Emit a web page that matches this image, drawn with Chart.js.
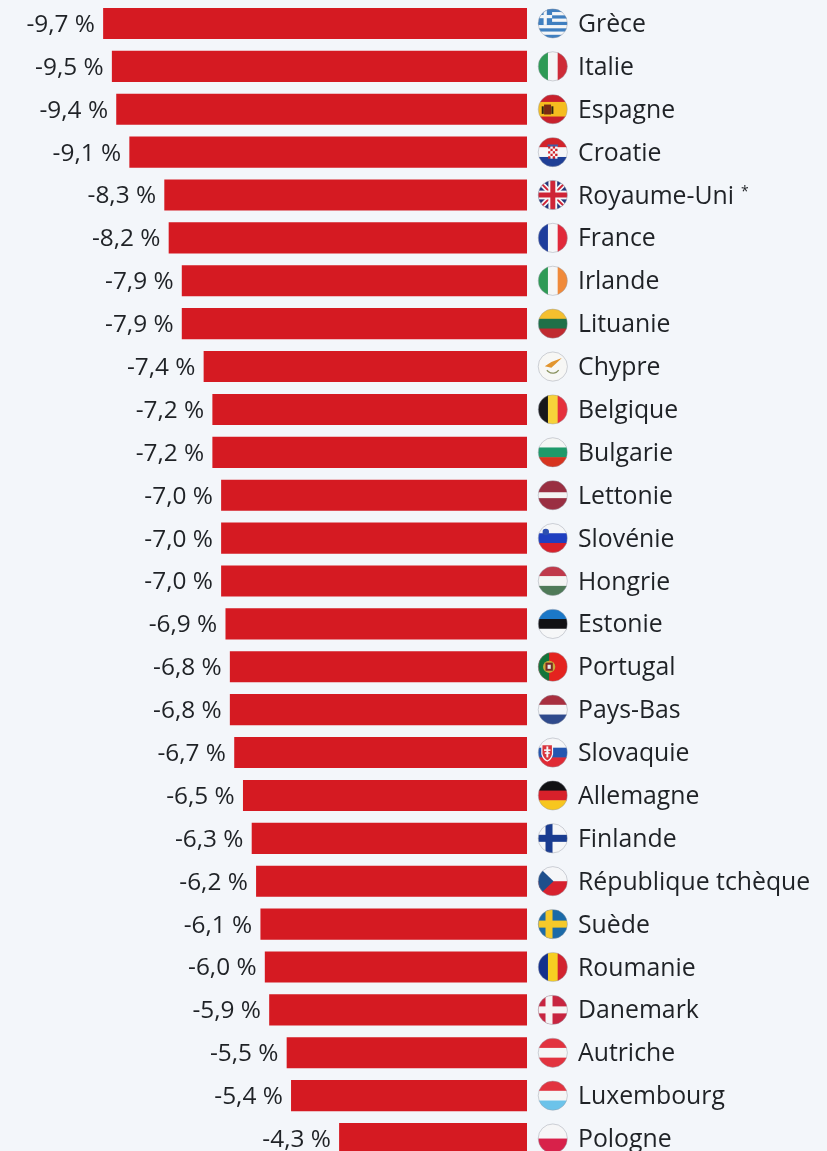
<!DOCTYPE html>
<html lang="fr">
<head>
<meta charset="utf-8">
<title>Pays</title>
<script src="https://cdn.jsdelivr.net/npm/chart.js@4/dist/chart.umd.min.js"></script>
<style>
  html, body { margin: 0; padding: 0; background: #f3f6fa; overflow: hidden; }
  #wrap { position: absolute; left: 0; top: 0; width: 827px; height: 1160px; filter: blur(0.4px); }
</style>
</head>
<body>
<div id="wrap"><canvas id="chart"></canvas></div>
<script>
const countries = ['Grèce', 'Italie', 'Espagne', 'Croatie', 'Royaume-Uni', 'France', 'Irlande', 'Lituanie', 'Chypre',
  'Belgique', 'Bulgarie', 'Lettonie', 'Slovénie', 'Hongrie', 'Estonie', 'Portugal', 'Pays-Bas', 'Slovaquie',
  'Allemagne', 'Finlande', 'République tchèque', 'Suède', 'Roumanie', 'Danemark', 'Autriche', 'Luxembourg', 'Pologne'];
const values = [-9.7, -9.5, -9.4, -9.1, -8.3, -8.2, -7.9, -7.9, -7.4, -7.2, -7.2, -7.0, -7.0, -7.0, -6.9, -6.8, -6.8, -6.7,
  -6.5, -6.3, -6.2, -6.1, -6.0, -5.9, -5.5, -5.4, -4.3];
const footnoted = ['Royaume-Uni'];

const TEXT = '#1f2226';
const FONT = '"Open Sans", sans-serif';
const FONT_SIZE = 24.8;
const VALUE_FONT_SIZE = 24.4;

// flags: each one draws inside a clip circle of radius r around 0,0
function hBands(colors, sizes) {
  return (c, r) => {
    const total = sizes ? sizes.reduce((a, b) => a + b, 0) : colors.length;
    let y = -r;
    colors.forEach((col, i) => {
      const h = 2 * r * (sizes ? sizes[i] : 1) / total;
      c.fillStyle = col;
      c.fillRect(-r, y, 2 * r, h + 0.5);
      y += h;
    });
  };
}
function vBands(colors) {
  return (c, r) => {
    const w = 2 * r / colors.length;
    colors.forEach((col, i) => {
      c.fillStyle = col;
      c.fillRect(-r + i * w, -r, w + 0.5, 2 * r);
    });
  };
}
function nordic(bg, cross) {
  return (c, r) => {
    c.fillStyle = bg;
    c.fillRect(-r, -r, 2 * r, 2 * r);
    c.fillStyle = cross;
    c.fillRect(-r, -r * 0.24, 2 * r, r * 0.48);
    c.fillRect(-r * 0.5, -r, r * 0.48, 2 * r);
  };
}

const flags = {
  'Grèce': (c, r) => {
    hBands(['#3f7fc0', '#f4f6f8', '#3f7fc0', '#f4f6f8', '#3f7fc0', '#f4f6f8', '#3f7fc0', '#f4f6f8', '#3f7fc0'])(c, r);
    c.fillStyle = '#3f7fc0';
    c.fillRect(-r, -r, r * 0.95, r * 1.1);
    c.fillStyle = '#f4f6f8';
    c.fillRect(-r, -r * 0.58, r * 0.95, r * 0.22);
    c.fillRect(-r * 0.63, -r, r * 0.22, r * 1.1);
  },
  'Italie': vBands(['#2e9a55', '#f4f6f6', '#ce2b37']),
  'Espagne': (c, r) => {
    hBands(['#c8202c', '#f5bd1f', '#c8202c'], [1, 2, 1])(c, r);
    c.fillStyle = '#7a2a14';
    c.fillRect(-r * 0.6, -r * 0.32, r * 0.48, r * 0.68);
    c.fillStyle = '#2e2410';
    c.fillRect(-r * 0.76, -r * 0.2, r * 0.14, r * 0.52);
    c.fillRect(-r * 0.1, -r * 0.2, r * 0.14, r * 0.52);
  },
  'Croatie': (c, r) => {
    hBands(['#d2232a', '#f5f6f8', '#1f3f96'])(c, r);
    for (let i = 0; i < 4; i++) {
      for (let j = 0; j < 5; j++) {
        c.fillStyle = (i + j) % 2 ? '#f5f6f8' : '#d2232a';
        c.fillRect(-r * 0.32 + i * r * 0.16, -r * 0.4 + j * r * 0.17, r * 0.16, r * 0.17);
      }
    }
    c.fillStyle = '#3f5fa8';
    c.fillRect(-r * 0.36, -r * 0.52, r * 0.72, r * 0.13);
  },
  'Royaume-Uni': (c, r) => {
    c.fillStyle = '#25367a';
    c.fillRect(-r, -r, 2 * r, 2 * r);
    c.lineCap = 'butt';
    c.strokeStyle = '#f4f5f7';
    c.lineWidth = r * 0.36;
    c.beginPath(); c.moveTo(-r, -r); c.lineTo(r, r); c.moveTo(r, -r); c.lineTo(-r, r); c.stroke();
    c.strokeStyle = '#cf2336';
    c.lineWidth = r * 0.13;
    c.beginPath(); c.moveTo(-r, -r); c.lineTo(r, r); c.moveTo(r, -r); c.lineTo(-r, r); c.stroke();
    c.fillStyle = '#f4f5f7';
    c.fillRect(-r, -r * 0.3, 2 * r, r * 0.6);
    c.fillRect(-r * 0.3, -r, r * 0.6, 2 * r);
    c.fillStyle = '#cf2336';
    c.fillRect(-r, -r * 0.17, 2 * r, r * 0.34);
    c.fillRect(-r * 0.17, -r, r * 0.34, 2 * r);
  },
  'France': vBands(['#1e3d9c', '#f5f6f8', '#e1293a']),
  'Irlande': vBands(['#2e9a55', '#f5f6f6', '#f08a3a']),
  'Lituanie': hBands(['#f4bf2e', '#1f7048', '#c02a30']),
  'Chypre': (c, r) => {
    c.fillStyle = '#f7f7f5';
    c.fillRect(-r, -r, 2 * r, 2 * r);
    c.fillStyle = '#e2952f';
    c.beginPath();
    c.moveTo(-r * 0.55, -r * 0.02); c.lineTo(-r * 0.1, -r * 0.32); c.lineTo(r * 0.62, -r * 0.58);
    c.lineTo(r * 0.2, -r * 0.2); c.lineTo(-r * 0.1, r * 0.08);
    c.closePath();
    c.fill();
    c.strokeStyle = '#8a9360';
    c.lineWidth = 1.3;
    c.beginPath();
    c.arc(0, -r * 0.05, r * 0.5, Math.PI * 0.2, Math.PI * 0.8);
    c.stroke();
  },
  'Belgique': vBands(['#17171a', '#f7d23a', '#e5303c']),
  'Bulgarie': hBands(['#f5f6f5', '#1f9a6a', '#d7341f']),
  'Lettonie': hBands(['#9a2f42', '#f4f3f3', '#9a2f42'], [2, 1, 2]),
  'Slovénie': (c, r) => {
    hBands(['#f5f6f8', '#1f3fc0', '#d8202a'])(c, r);
    c.fillStyle = '#2d4fb0';
    c.beginPath(); c.arc(-r * 0.48, -r * 0.42, r * 0.22, 0, Math.PI * 2); c.fill();
  },
  'Hongrie': hBands(['#c0394a', '#f4f5f4', '#4f7a58']),
  'Estonie': hBands(['#1b78c8', '#111114', '#f6f7f8']),
  'Portugal': (c, r) => {
    c.fillStyle = '#e4231f';
    c.fillRect(-r, -r, 2 * r, 2 * r);
    c.fillStyle = '#12753a';
    c.fillRect(-r, -r, r * 0.75, 2 * r);
    c.fillStyle = '#c9a93a';
    c.beginPath(); c.arc(-r * 0.25, 0, r * 0.42, 0, Math.PI * 2); c.fill();
    c.fillStyle = '#7a2a25';
    c.fillRect(-r * 0.5, -r * 0.28, r * 0.5, r * 0.55);
    c.fillStyle = '#e8e8ea';
    c.fillRect(-r * 0.36, -r * 0.14, r * 0.22, r * 0.28);
  },
  'Pays-Bas': hBands(['#a82f3f', '#f5f6f8', '#2f4a8c']),
  'Slovaquie': (c, r) => {
    hBands(['#f5f6f8', '#2456b0', '#e02a35'])(c, r);
    c.fillStyle = '#d9333d';
    c.strokeStyle = '#f5f6f8';
    c.lineWidth = 1.2;
    c.beginPath();
    c.moveTo(-r * 0.75, -r * 0.55); c.lineTo(-r * 0.02, -r * 0.55); c.lineTo(-r * 0.02, r * 0.1);
    c.quadraticCurveTo(-r * 0.1, r * 0.45, -r * 0.38, r * 0.58);
    c.quadraticCurveTo(-r * 0.66, r * 0.45, -r * 0.75, r * 0.1);
    c.closePath();
    c.fill(); c.stroke();
    c.fillStyle = '#f5f6f8';
    c.fillRect(-r * 0.44, -r * 0.42, r * 0.13, r * 0.75);
    c.fillRect(-r * 0.6, -r * 0.22, r * 0.44, r * 0.11);
    c.fillRect(-r * 0.55, -r * 0.02, r * 0.34, r * 0.11);
  },
  'Allemagne': hBands(['#111114', '#d8202a', '#f7c61f']),
  'Finlande': nordic('#f5f6f8', '#1a3c90'),
  'République tchèque': (c, r) => {
    hBands(['#f5f6f8', '#d7212e'])(c, r);
    c.fillStyle = '#1f4f8c';
    c.beginPath(); c.moveTo(-r, -r); c.lineTo(r * 0.05, 0); c.lineTo(-r, r); c.closePath(); c.fill();
  },
  'Suède': nordic('#1b6aa8', '#f5c92a'),
  'Roumanie': vBands(['#14308c', '#f7cf22', '#d2232f']),
  'Danemark': nordic('#c8243f', '#f5f3f4'),
  'Autriche': hBands(['#e2333f', '#f5f6f6', '#e2333f']),
  'Luxembourg': hBands(['#e2333f', '#f5f6f6', '#6cc3ea']),
  'Pologne': hBands(['#f6f6f7', '#d8214a'])
};

const rowDecor = {
  id: 'rowDecor',
  afterDatasetsDraw(chart) {
    const { ctx } = chart;
    const xs = chart.scales.x;
    const ys = chart.scales.y;
    const zero = xs.getPixelForValue(0);
    const r = 14.6;
    ctx.save();
    ctx.textBaseline = 'middle';
    countries.forEach((name, i) => {
      const y = ys.getPixelForValue(i);
      const barLeft = xs.getPixelForValue(values[i]);

      ctx.fillStyle = TEXT;
      ctx.textAlign = 'right';
      ctx.font = `${VALUE_FONT_SIZE}px ${FONT}`;
      ctx.fillText(values[i].toFixed(1).replace('.', ',') + ' %', barLeft - 8.2, y + 1.5);

      ctx.textAlign = 'left';
      ctx.font = `${FONT_SIZE}px ${FONT}`;
      ctx.fillText(name, zero + 51, y + 1.5);
      if (footnoted.includes(name)) {
        const w = ctx.measureText(name).width;
        ctx.font = `14px ${FONT}`;
        ctx.fillText('*', zero + 51 + w + 7, y - 3);
      }

      // flag
      ctx.save();
      ctx.translate(zero + 25.8, y);
      ctx.beginPath();
      ctx.arc(0, 0, r, 0, Math.PI * 2);
      ctx.clip();
      flags[name](ctx, r);
      ctx.restore();
      ctx.beginPath();
      ctx.arc(zero + 25.8, y, r, 0, Math.PI * 2);
      ctx.strokeStyle = 'rgba(150,155,165,0.55)';
      ctx.lineWidth = 0.8;
      ctx.stroke();
    });
    ctx.restore();
  }
};

new Chart(document.getElementById('chart'), {
  type: 'bar',
  plugins: [rowDecor],
  data: {
    labels: countries,
    datasets: [{
      data: values,
      backgroundColor: '#d51a22',
      borderWidth: 0,
      categoryPercentage: 1,
      barPercentage: 0.725
    }]
  },
  options: {
    indexAxis: 'y',
    responsive: true,
    maintainAspectRatio: false,
    animation: false,
    layout: { padding: { top: 2, left: 0, right: 0, bottom: 0 } },
    plugins: { legend: { display: false }, tooltip: { enabled: false } },
    scales: {
      x: { display: false, min: -12.06, max: 6.865 },
      y: { display: false }
    }
  }
});
</script>
</body>
</html>
